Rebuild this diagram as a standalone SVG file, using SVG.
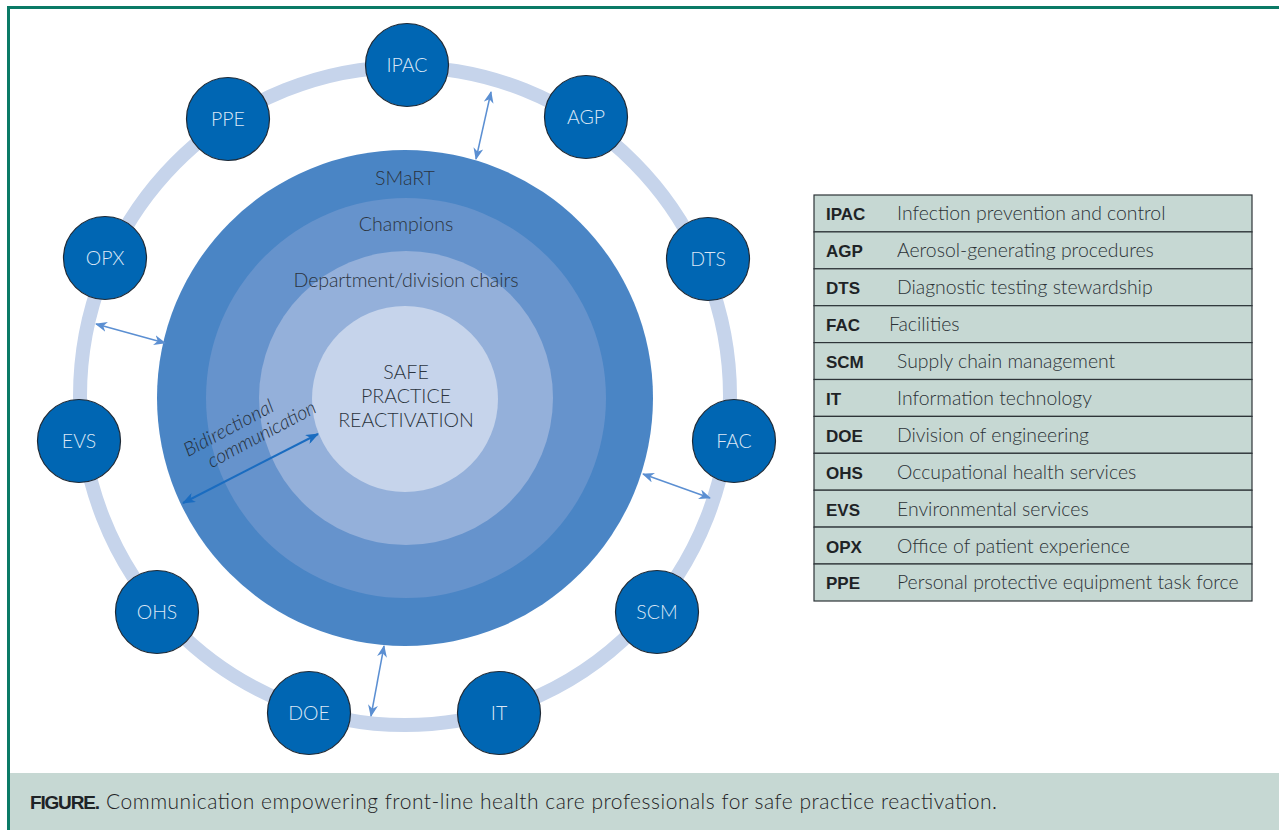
<svg xmlns="http://www.w3.org/2000/svg" width="1279" height="830" viewBox="0 0 1279 830">
  <style>
    .light { font-family: Lato, "Open Sans", "Liberation Sans", sans-serif; font-weight: 300; }
    .node circle { fill: #0066b3; stroke: #1f2a36; stroke-width: 1.2; }
    .node text { fill: #dbe7f6; font-size: 19.5px; text-anchor: middle; }
    .layer-label { fill: #2b3440; font-size: 19.6px; text-anchor: middle; }
    .link { stroke: #5b8fd2; stroke-width: 1.5; fill: none; marker-start: url(#headLight); marker-end: url(#headLight); }
    .legend rect { fill: #c6d8d3; stroke: #2d3438; stroke-width: 1.2; }
    .abbr { font-family: "Liberation Sans", Arial, sans-serif; font-weight: bold; font-size: 17px; fill: #1e2326; }
    .desc { fill: #2b3136; font-size: 19.4px; }
  </style>
  <defs>
    <marker id="headLight" viewBox="0 0 12 10" refX="11" refY="5" markerWidth="12" markerHeight="10" markerUnits="userSpaceOnUse" orient="auto-start-reverse">
      <path d="M0,0 L12,5 L0,10 L3.5,5 Z" fill="#5b8fd2"/>
    </marker>
    <marker id="headDark" viewBox="0 0 13 10" refX="12" refY="5" markerWidth="13" markerHeight="10" markerUnits="userSpaceOnUse" orient="auto-start-reverse">
      <path d="M0,0 L13,5 L0,10 L3.5,5 Z" fill="#1a6cc0"/>
    </marker>
  </defs>

  <!-- frame -->
  <rect x="0" y="0" width="1279" height="830" fill="#ffffff"/>
  <path d="M8.5,830 L8.5,7.5 L1279,7.5" fill="none" stroke="#0b7a66" stroke-width="3"/>
  <rect x="10" y="773" width="1269" height="57" fill="#c6d8d3"/>

  <!-- outer ring linking the teams -->
  <ellipse cx="405" cy="396" rx="325" ry="329" fill="none" stroke="#c6d4eb" stroke-width="14"/>

  <!-- concentric layers -->
  <g id="layers">
    <circle cx="405" cy="398" r="248" fill="#4a85c5"/>
    <circle cx="406" cy="398" r="200" fill="#6693cc"/>
    <circle cx="406" cy="398" r="147" fill="#94b0da"/>
    <circle cx="405" cy="399" r="93" fill="#c6d4eb"/>
    <text class="light layer-label" x="405" y="185">SMaRT</text>
    <text class="light layer-label" x="406" y="230.5">Champions</text>
    <text class="light layer-label" x="406" y="286.5" textLength="225">Department/division chairs</text>
    <text class="light layer-label" x="406" y="379.3">SAFE</text>
    <text class="light layer-label" x="406" y="403.3">PRACTICE</text>
    <text class="light layer-label" x="406" y="427.3">REACTIVATION</text>
  </g>

  <!-- connectors -->
  <g id="connectors">
    <line class="link" x1="491" y1="92" x2="476" y2="159"/>
    <line class="link" x1="96" y1="324" x2="165" y2="343"/>
    <line class="link" x1="643" y1="474" x2="710" y2="498"/>
    <line class="link" x1="384" y1="646" x2="371" y2="716"/>
    <line x1="183" y1="503" x2="318" y2="434" stroke="#1a6cc0" stroke-width="2" marker-start="url(#headDark)" marker-end="url(#headDark)"/>
    <g transform="translate(188,457) rotate(-28)" class="light" font-style="italic" font-size="19.5" fill="#26313d">
      <text x="0" y="0" textLength="99">Bidirectional</text>
      <text x="15.7" y="21" textLength="120">communication</text>
    </g>
  </g>

  <!-- team nodes -->
  <g id="node-ipac" class="node"><circle cx="407" cy="65" r="41.5"/><text class="light" x="407" y="71.5">IPAC</text></g>
  <g id="node-agp" class="node"><circle cx="586" cy="117" r="41.5"/><text class="light" x="586" y="123.5">AGP</text></g>
  <g id="node-dts" class="node"><circle cx="708" cy="259" r="41.5"/><text class="light" x="708" y="265.5">DTS</text></g>
  <g id="node-fac" class="node"><circle cx="734" cy="441" r="41.5"/><text class="light" x="734" y="447.5">FAC</text></g>
  <g id="node-scm" class="node"><circle cx="657" cy="612" r="41.5"/><text class="light" x="657" y="618.5">SCM</text></g>
  <g id="node-it" class="node"><circle cx="499" cy="713" r="41.5"/><text class="light" x="499" y="719.5">IT</text></g>
  <g id="node-doe" class="node"><circle cx="309" cy="713" r="41.5"/><text class="light" x="309" y="719.5">DOE</text></g>
  <g id="node-ohs" class="node"><circle cx="157" cy="612" r="41.5"/><text class="light" x="157" y="618.5">OHS</text></g>
  <g id="node-evs" class="node"><circle cx="79" cy="441" r="41.5"/><text class="light" x="79" y="447.5">EVS</text></g>
  <g id="node-opx" class="node"><circle cx="105" cy="258" r="41.5"/><text class="light" x="105" y="264.5">OPX</text></g>
  <g id="node-ppe" class="node"><circle cx="228" cy="119" r="41.5"/><text class="light" x="228" y="125.5">PPE</text></g>

  <!-- abbreviation key -->
  <g id="legend" class="legend">
    <rect x="814" y="195" width="438" height="36.9"/>
    <rect x="814" y="231.9" width="438" height="36.9"/>
    <rect x="814" y="268.8" width="438" height="36.9"/>
    <rect x="814" y="305.7" width="438" height="36.9"/>
    <rect x="814" y="342.6" width="438" height="36.9"/>
    <rect x="814" y="379.5" width="438" height="36.9"/>
    <rect x="814" y="416.4" width="438" height="36.9"/>
    <rect x="814" y="453.3" width="438" height="36.9"/>
    <rect x="814" y="490.2" width="438" height="36.9"/>
    <rect x="814" y="527.1" width="438" height="36.9"/>
    <rect x="814" y="564" width="438" height="37"/>
    <text class="abbr" x="826" y="220">IPAC</text><text class="light desc" x="897" y="220">Infection prevention and control</text>
    <text class="abbr" x="826" y="257">AGP</text><text class="light desc" x="897" y="257">Aerosol-generating procedures</text>
    <text class="abbr" x="826" y="294">DTS</text><text class="light desc" x="897" y="294">Diagnostic testing stewardship</text>
    <text class="abbr" x="826" y="331">FAC</text><text class="light desc" x="889" y="331">Facilities</text>
    <text class="abbr" x="826" y="368">SCM</text><text class="light desc" x="897" y="368">Supply chain management</text>
    <text class="abbr" x="826" y="404.5">IT</text><text class="light desc" x="897" y="404.5">Information technology</text>
    <text class="abbr" x="826" y="441.5">DOE</text><text class="light desc" x="897" y="441.5">Division of engineering</text>
    <text class="abbr" x="826" y="478.5">OHS</text><text class="light desc" x="897" y="478.5">Occupational health services</text>
    <text class="abbr" x="826" y="515.5">EVS</text><text class="light desc" x="897" y="515.5">Environmental services</text>
    <text class="abbr" x="826" y="552.5">OPX</text><text class="light desc" x="897" y="552.5">Office of patient experience</text>
    <text class="abbr" x="826" y="589">PPE</text><text class="light desc" x="897" y="589">Personal protective equipment task force</text>
  </g>

  <!-- caption -->
  <text x="30" y="809" font-family="Liberation Sans, Arial, sans-serif" font-weight="bold" font-size="19" fill="#1e2326" textLength="70">FIGURE.</text>
  <text class="light" x="106" y="809" font-size="21" fill="#1e2326" textLength="891">Communication empowering front-line health care professionals for safe practice reactivation.</text>
</svg>
